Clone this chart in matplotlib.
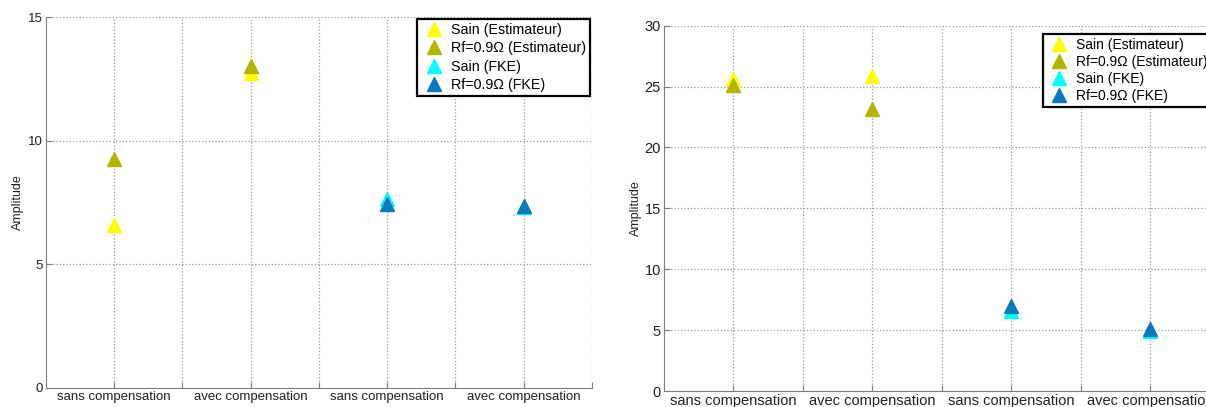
import numpy as np
import matplotlib.pyplot as plt

plt.rcParams['font.family'] = ['Liberation Sans', 'DejaVu Sans']

# Catégories et positions
categories = ['sans compensation', 'avec compensation', 'sans compensation', 'avec compensation']
x_est = [1, 2]   # Estimateur
x_fke = [3, 4]   # FKE

labels = ['Sain (Estimateur)', 'Rf=0.9Ω (Estimateur)', 'Sain (FKE)', 'Rf=0.9Ω (FKE)']
colors = ['#ffff00', '#b5b500', '#00ffff', '#0a78bd']

# Figure de gauche
sain_est_a = [6.6, 12.75]
rf_est_a = [9.25, 13.0]
sain_fke_a = [7.65, 7.3]
rf_fke_a = [7.45, 7.35]

# Figure de droite
sain_est_b = [25.6, 25.9]
rf_est_b = [25.1, 23.2]
sain_fke_b = [6.6, 4.9]
rf_fke_b = [6.95, 5.1]


def draw(ax, series, ymax, fs, leg_fs, leg_space, leg_pad, ylab_pad):
    xs = [x_est, x_est, x_fke, x_fke]
    for x, y, c, lab in zip(xs, series, colors, labels):
        ax.plot(x, y, linestyle='none', marker='^', markersize=10,
                color=c, markeredgecolor=c, label=lab)
    ax.set_xlim(0.5, 4.5)
    ax.set_ylim(0, ymax)
    ax.set_yticks(np.arange(0, ymax + 1, 5))
    ticks = np.arange(1, 4.51, 0.5)
    ax.set_xticks(ticks)
    ax.set_xticklabels([categories[int(t) - 1] if t == int(t) else '' for t in ticks])
    ax.grid(True, linestyle=':', color='#9a9a9a', linewidth=0.9)
    for s in ['top', 'right']:
        ax.spines[s].set_visible(False)
    for s in ['left', 'bottom']:
        ax.spines[s].set_color('#808080')
    ax.tick_params(direction='in', length=4, color='#808080', labelsize=fs,
                   labelcolor='#222222', pad=2)
    ax.set_ylabel('Amplitude', fontsize=9, color='#222222', labelpad=ylab_pad)
    leg = ax.legend(loc='upper right', fontsize=leg_fs, fancybox=False, framealpha=1,
                    edgecolor='black', handletextpad=0.35, labelspacing=leg_space,
                    borderpad=0.3, borderaxespad=leg_pad, handlelength=1.7,
                    markerscale=0.95)
    leg.get_frame().set_linewidth(1.6)


fig = plt.figure(figsize=(12.06, 4.07), dpi=100)
ax1 = fig.add_axes([0.0381, 0.0467, 0.4527, 0.9115])
ax2 = fig.add_axes([0.5502, 0.0393, 0.461, 0.8975])

draw(ax1, [sain_est_a, rf_est_a, sain_fke_a, rf_fke_a], 15, 9.5, 10.3, 0.3, 0.12, 3)
draw(ax2, [sain_est_b, rf_est_b, sain_fke_b, rf_fke_b], 30, 10.5, 10, 0.2, 0.6, 2)

fig.savefig('out.png', dpi=100)
